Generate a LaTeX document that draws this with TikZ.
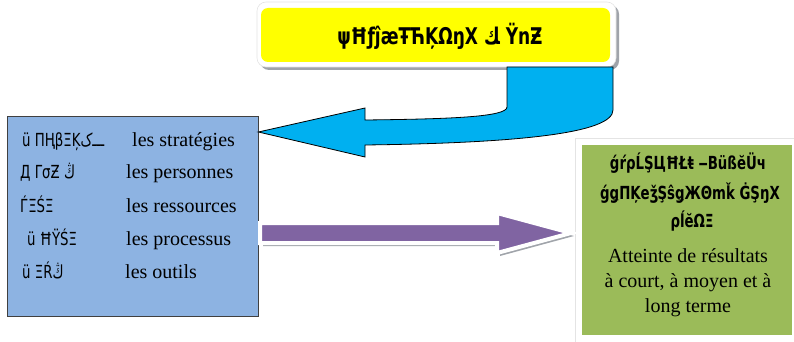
\documentclass[tikz,border=0pt]{standalone}
\usepackage{fontspec}
\setmainfont{Liberation Serif}
\newfontfamily\glyphfont[FakeStretch=0.74]{DejaVu Sans}
\usetikzlibrary{calc}

\definecolor{boxyellow}{HTML}{FFFF00}
\definecolor{arrowcyan}{HTML}{00B0F0}
\definecolor{boxblue}{HTML}{8DB3E2}
\definecolor{arrowpurple}{HTML}{8064A2}
\definecolor{boxgreen}{HTML}{9BBB59}
\definecolor{shadowgray}{HTML}{A0A4AA}
\definecolor{rimgray}{HTML}{E4E4E4}

\tikzset{
  fr/.style={font=\fontsize{20}{24}\selectfont, inner sep=0pt},
  glyph/.style={font=\glyphfont\fontsize{18}{22}\selectfont, inner sep=0pt},
  glyphmid/.style={font=\glyphfont\bfseries\fontsize{18}{22}\selectfont, inner sep=0pt},
  glyphbig/.style={font=\glyphfont\bfseries\fontsize{23}{26}\selectfont, inner sep=0pt},
  rimbox/.style={fill=white, draw=rimgray, line width=0.6pt},
}

\begin{document}
\begin{tikzpicture}[x=1pt,y=-1pt]
\useasboundingbox (0,0) rectangle (794,342);

% --- top banner: white rim, soft shadow, yellow face
\fill[shadowgray, rounded corners=9pt] (260,5) rectangle (619,70);
\draw[rimbox, rounded corners=9pt] (257,2) rectangle (616,67);
\node[fill=boxyellow, rounded corners=7pt, minimum width=349pt, minimum height=54pt, inner sep=0pt]
  (banner) at (435.5,35) {};
\node[glyphbig] (bannertext) at (440,36) {ψĦƒĵӕŦЋĶΩŋΧ ﻚ ŸnƵ};

% --- left box with the list
\node[fill=boxblue, draw=black!75, line width=0.8pt, minimum width=251pt, minimum height=200pt, inner sep=0pt]
  (listbox) at (132.5,216) {};

\node[glyph, anchor=base west] (g1) at (22,146) {ü ΠҢβΞĶـــک};
\node[glyph, anchor=base west] (g2) at (20,178) {Д ΓσƵ ڭ};
\node[glyph, anchor=base west] (g3) at (20,212) {ЃΞŚΞ};
\node[glyph, anchor=base west] (g4) at (27,245) {ü ĦŸŚΞ};
\node[glyph, anchor=base west] (g5) at (22,278) {ü ΞŔڭ};

\node[fr, anchor=base west] (f1) at (132,146) {les stratégies};
\node[fr, anchor=base west] (f2) at (126,178) {les personnes};
\node[fr, anchor=base west] (f3) at (126,212) {les ressources};
\node[fr, anchor=base west] (f4) at (126,245) {les processus};
\node[fr, anchor=base west] (f5) at (125,278) {les outils};

% --- curved cyan block arrow from the banner to the list box
\draw[fill=arrowcyan, draw=black, line width=0.8pt, line join=miter]
  (listbox.east |- 0,132) -- (365,108) -- (365,120)
  .. controls (450,119) and (507,117) .. (507,107)
  -- (507,67) -- (613,67) -- (613,110)
  .. controls (613,133) and (520,143) .. (365,145)
  -- (365,157) -- cycle;

% --- right box with the outcome
\fill[shadowgray] (577,140) rectangle (796,344);
\draw[rimbox] (575,138) rectangle (794,342);
\node[fill=boxgreen, minimum width=210pt, minimum height=190pt, inner sep=0pt]
  (goalbox) at (687,240) {};

\node[glyphmid] (h1) at (688,163) {ǵŕρĹŞЦĦŁŧ ‒ΒüßĕÜч};
\node[glyphmid] (h2) at (690,193) {ǵǥΠĶeǯŞŝǥЖΘmǩ ĠŞŋΧ};
\node[glyphmid] (h3) at (692,221) {ρĺĕΩΞ};

\node[fr, anchor=base] (t1) at (688,262) {Atteinte de résultats};
\node[fr, anchor=base] (t2) at (688,287) {à court, à moyen et à};
\node[fr, anchor=base] (t3) at (688,312) {long terme};

% --- straight purple block arrow from the list box to the outcome box
\fill[shadowgray] (263,226) -- (500,226) -- (500,216) -- (574,236) -- (500,256) -- (500,246) -- (263,246) -- cycle;
\draw[fill=arrowpurple, draw=white, line width=4pt, line join=miter]
  (260,223) -- (497,223) -- (497,213) -- (571,233) -- (497,253) -- (497,243) -- (260,243) -- cycle;
\end{tikzpicture}
\end{document}
